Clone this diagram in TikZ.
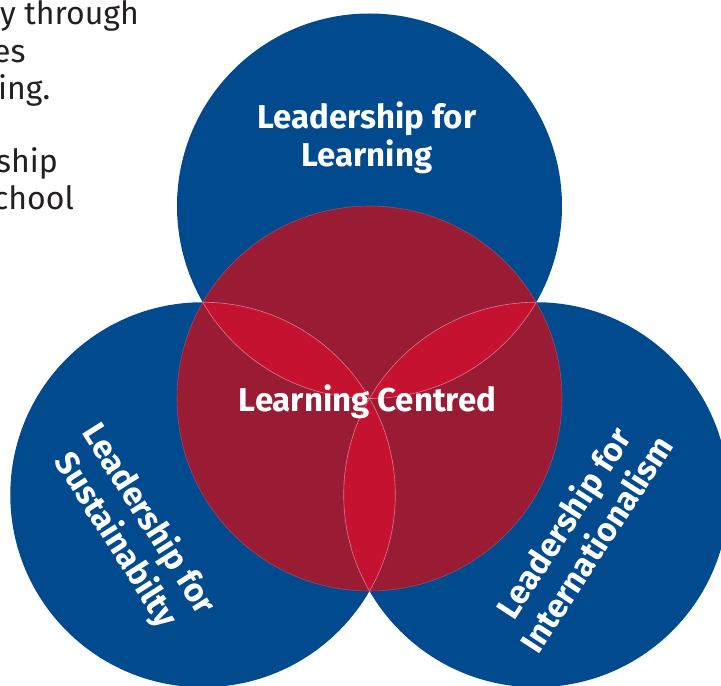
\documentclass[tikz,border=0pt]{standalone}
\usepackage{fontspec}
\setmainfont{Fira Sans}
\usetikzlibrary{calc}

\definecolor{ringblue}{RGB}{0,74,141}
\definecolor{coredark}{RGB}{153,28,52}
\definecolor{petalred}{RGB}{196,18,48}
\definecolor{edgepink}{RGB}{222,120,140}
\definecolor{bodygrey}{RGB}{35,31,32}

\tikzset{
  heading/.style={text=white,font=\bfseries\fontsize{33}{38}\selectfont,align=center,inner sep=0pt},
  sidehead/.style={heading,font=\bfseries\fontsize{33}{39}\selectfont},
  bodyline/.style={text=bodygrey,font=\fontsize{32}{37}\selectfont,anchor=base west,inner sep=0pt},
  petaledge/.style={draw=edgepink,line width=0.6pt}
}

\begin{document}
\begin{tikzpicture}[x=1pt,y=1pt]
  \useasboundingbox (0,0) rectangle (721,686);
  \clip (0,0) rectangle (721,686);

  \coordinate (core) at (369.5,287.5);
  \coordinate (learnc) at ($(core)+(90:192.5pt)$);
  \coordinate (sustc) at ($(core)+(210:192.5pt)$);
  \coordinate (intlc) at ($(core)+(330:192.5pt)$);

  % the three outer circles
  \fill[ringblue] (learnc) circle [radius=192.5pt];
  \fill[ringblue] (sustc) circle [radius=192.5pt];
  \fill[ringblue] (intlc) circle [radius=192.5pt];

  % centre
  \fill[coredark] (core) circle [radius=192.5pt];
  \draw[petaledge,opacity=0.4] (core) circle [radius=192.5pt];

  % petals where two outer circles overlap
  \foreach \a/\b in {learnc/sustc,learnc/intlc,sustc/intlc} {
    \begin{scope}
      \clip (\a) circle [radius=192.5pt];
      \fill[petalred] (\b) circle [radius=192.5pt];
      \draw[petaledge] (\b) circle [radius=192.5pt];
    \end{scope}
    \begin{scope}
      \clip (\b) circle [radius=192.5pt];
      \draw[petaledge] (\a) circle [radius=192.5pt];
    \end{scope}
  }

  \node[heading] (learnlabel) at (367,548) {Leadership for\\Learning};
  \node[heading,anchor=base] (corelabel) at (367.5,274) {Learning Centred};
  \node[sidehead,rotate=-57.5] (sustlabel) at (132,156) {Leadership for\\Sustainabilty};
  \node[sidehead,rotate=57] (intllabel) at (579,153) {Leadership for\\Internationalism};

  % cut-off text at the top left
  \node[bodyline] (txta) at (0,661) {y through};
  \node[bodyline] (txtb) at (-7,623) {es};
  \node[bodyline] (txtc) at (-2,586) {ing.};
  \node[bodyline] (txtd) at (-4,513) {ship};
  \node[bodyline] (txte) at (-7,476) {chool};
\end{tikzpicture}
\end{document}
